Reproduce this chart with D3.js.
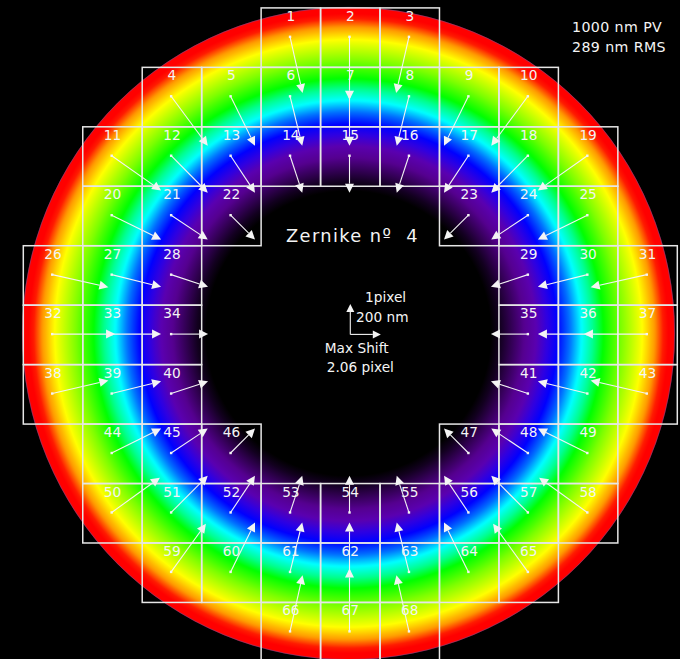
<!DOCTYPE html>
<html>
<head>
<meta charset="utf-8">
<script src="https://cdn.jsdelivr.net/npm/d3@7"></script>
<style>
  html, body { margin: 0; padding: 0; background: #000; }
  svg { display: block; }
  text { font-family: "DejaVu Sans", sans-serif; fill: #f4f4f4; }
</style>
</head>
<body>
<svg id="chart" width="680" height="659"></svg>
<script>
// Lenslet layout: for each row of the Shack-Hartmann grid, the active columns (0..10)
const lensletRows = [
  [4, 5, 6],
  [2, 3, 4, 5, 6, 7, 8],
  [1, 2, 3, 4, 5, 6, 7, 8, 9],
  [1, 2, 3, 7, 8, 9],
  [0, 1, 2, 8, 9, 10],
  [0, 1, 2, 8, 9, 10],
  [0, 1, 2, 8, 9, 10],
  [1, 2, 3, 7, 8, 9],
  [1, 2, 3, 4, 5, 6, 7, 8, 9],
  [2, 3, 4, 5, 6, 7, 8],
  [4, 5, 6]
];

// Spot shifts per subaperture (detector pixels), numbered 1..68, x to the right, y downward
const shiftX = [
   0.41,  0.00, -0.42,
   1.20,  0.80,  0.40,  0.00, -0.40, -0.80, -1.20,
   1.62,  1.20,  0.80,  0.40,  0.00, -0.40, -0.80, -1.20, -1.62,
   1.62,  1.20,  0.80, -0.80, -1.20, -1.62,
   1.84,  1.62,  1.21, -1.21, -1.62, -1.84,
   2.06,  1.62,  1.21, -1.21, -1.62, -2.06,
   1.84,  1.62,  1.21, -1.21, -1.62, -1.84,
   1.62,  1.20,  0.80, -0.80, -1.20, -1.62,
   1.58,  1.20,  0.80,  0.40,  0.00, -0.40, -0.80, -1.20, -1.58,
   1.14,  0.80,  0.40,  0.00, -0.40, -0.80, -1.14,
   0.41,  0.00, -0.41
];
const shiftY = [
   1.84,  2.06,  1.84,
   1.62,  1.62,  1.62,  1.62,  1.62,  1.62,  1.62,
   1.14,  1.21,  1.21,  1.21,  1.21,  1.21,  1.21,  1.21,  1.14,
   0.80,  0.80,  0.80,  0.80,  0.80,  0.80,
   0.41,  0.40,  0.40,  0.40,  0.40,  0.41,
   0.00,  0.00,  0.00,  0.00,  0.00,  0.00,
  -0.43, -0.40, -0.40, -0.40, -0.40, -0.43,
  -0.80, -0.80, -0.80, -0.80, -0.80, -0.80,
  -1.14, -1.20, -1.20, -1.20, -1.20, -1.20, -1.20, -1.20, -1.14,
  -1.58, -1.62, -1.62, -1.62, -1.62, -1.62, -1.58,
  -1.84, -2.06, -1.84
];

// Wavefront colour table: normalised defocus value (0 at centre, 1 at the rim)
const colorStops = [0, 0.19, 0.215, 0.25, 0.29, 0.33, 0.37, 0.41, 0.46, 0.51, 0.56, 0.61, 0.70, 0.81, 0.88, 0.93, 0.96, 1];
const colorValues = ["#000000", "#000000", "#12001f", "#330055", "#550090", "#5a00b0", "#3000e0", "#0000ff",
                     "#0070ff", "#00ffff", "#00ff90", "#00ff00", "#80ff00", "#ffff00", "#ff9900", "#ff1a00",
                     "#ff0000", "#ff0000"];

const zernikeTitle = "Zernike nº  4";
const pvText = "1000 nm PV";
const rmsText = "289 nm RMS";
const scaleLabel1 = "1pixel";
const scaleLabel2 = "200 nm";
const maxShiftLabel = "Max Shift";
const maxShiftValue = "2.06 pixel";

const svg = d3.select("#chart");
svg.append("rect").attr("width", 680).attr("height", 659).attr("fill", "#000");

// Grid coordinates in lenslet units (11 x 11)
const x = d3.scaleLinear().domain([0, 11]).range([23.3, 677.3]);
const y = d3.scaleLinear().domain([0, 11]).range([7.9, 661.9]);
// Detector pixel shift -> screen length
const px = d3.scaleLinear().domain([0, 1]).range([0, 30.5]);

// Pupil
const pupil = { cx: 5.47, cy: 5.475, r: 5.49 };
const pcx = x(pupil.cx), pcy = y(pupil.cy), pr = x(pupil.r) - x(0);

const color = d3.scaleLinear().domain(colorStops).range(colorValues).interpolate(d3.interpolateRgb);

const defs = svg.append("defs");
const grad = defs.append("radialGradient")
  .attr("id", "wavefront")
  .attr("gradientUnits", "userSpaceOnUse")
  .attr("cx", pcx).attr("cy", pcy).attr("r", pr)
  .attr("fx", pcx).attr("fy", pcy);
grad.selectAll("stop")
  .data(d3.range(0, 1.0001, 0.004))
  .join("stop")
  .attr("offset", d => d)
  .attr("stop-color", d => color(Math.min(1, d * d)));

svg.append("circle")
  .attr("cx", pcx).attr("cy", pcy).attr("r", pr)
  .attr("fill", "url(#wavefront)");
// thin fringe at the pupil rim
svg.append("circle")
  .attr("cx", pcx).attr("cy", pcy).attr("r", pr - 0.3)
  .attr("fill", "none")
  .attr("stroke", "#3a6ad0")
  .attr("stroke-opacity", 0.45)
  .attr("stroke-width", 0.9);

// Flatten lenslets into numbered cells
const cells = [];
lensletRows.forEach((cols, row) => {
  cols.forEach(col => {
    const i = cells.length;
    cells.push({ n: i + 1, row, col, sx: shiftX[i], sy: shiftY[i] });
  });
});

// Cell outlines
svg.append("g")
  .selectAll("rect")
  .data(cells)
  .join("rect")
  .attr("x", d => x(d.col))
  .attr("y", d => y(d.row))
  .attr("width", x(1) - x(0))
  .attr("height", y(1) - y(0))
  .attr("fill", "none")
  .attr("stroke", "#e6e6e6")
  .attr("stroke-width", 1.5);

// Cell numbers
svg.append("g")
  .selectAll("text")
  .data(cells)
  .join("text")
  .attr("x", d => x(d.col + 0.5))
  .attr("y", d => y(d.row) + 13)
  .attr("text-anchor", "middle")
  .attr("font-size", 13.7)
  .text(d => d.n);

// Arrow helper: line, start dot and filled head
function arrow(g, x0, y0, x1, y1, headLen, headHalf, dot) {
  const dx = x1 - x0, dy = y1 - y0;
  const L = Math.hypot(dx, dy);
  if (L < 0.5) return;
  const ux = dx / L, uy = dy / L;
  const bx = x1 - ux * headLen, by = y1 - uy * headLen;
  g.append("line")
    .attr("x1", x0).attr("y1", y0).attr("x2", bx).attr("y2", by)
    .attr("stroke", "#f4f4f4").attr("stroke-width", 1.1);
  g.append("path")
    .attr("d", d3.line()([[x1, y1], [bx - uy * headHalf, by + ux * headHalf], [bx + uy * headHalf, by - ux * headHalf]]) + "Z")
    .attr("fill", "#f4f4f4");
  if (dot) {
    g.append("rect")
      .attr("x", x0 - 1.2).attr("y", y0 - 1.2)
      .attr("width", 2.4).attr("height", 2.4)
      .attr("fill", "#f4f4f4");
  }
}

const arrows = svg.append("g");
cells.forEach(d => {
  const x0 = x(d.col + 0.5) - 0.8, y0 = y(d.row + 0.5) - 0.8;
  arrow(arrows, x0, y0, x0 + px(d.sx), y0 + px(d.sy), 9, 4.5, true);
});

// Scale arrows: 1 detector pixel
const ox = x(5.5), oy = y(5.5) - 0.5;
arrow(svg, ox, oy, ox, oy - px(1), 8, 4, false);
arrow(svg, ox, oy, ox + px(1), oy, 8, 4, false);

svg.append("text").attr("x", 352.5).attr("y", 241.7).attr("text-anchor", "middle")
  .attr("font-size", 17.8).attr("letter-spacing", 1.4).attr("xml:space", "preserve")
  .style("white-space", "pre").text(zernikeTitle);

svg.append("text").attr("x", 365).attr("y", 302).attr("font-size", 13.7).text(scaleLabel1);
svg.append("text").attr("x", 356).attr("y", 321.7).attr("font-size", 13.7).text(scaleLabel2);
svg.append("text").attr("x", 356.7).attr("y", 353).attr("text-anchor", "middle").attr("font-size", 13.7).text(maxShiftLabel);
svg.append("text").attr("x", 360.3).attr("y", 372).attr("text-anchor", "middle").attr("font-size", 13.7).text(maxShiftValue);

svg.append("text").attr("x", 572).attr("y", 32.3).attr("font-size", 14.2).attr("letter-spacing", 0.4).text(pvText);
svg.append("text").attr("x", 572).attr("y", 51.7).attr("font-size", 14.2).attr("letter-spacing", 0.4).text(rmsText);
</script>
</body>
</html>
